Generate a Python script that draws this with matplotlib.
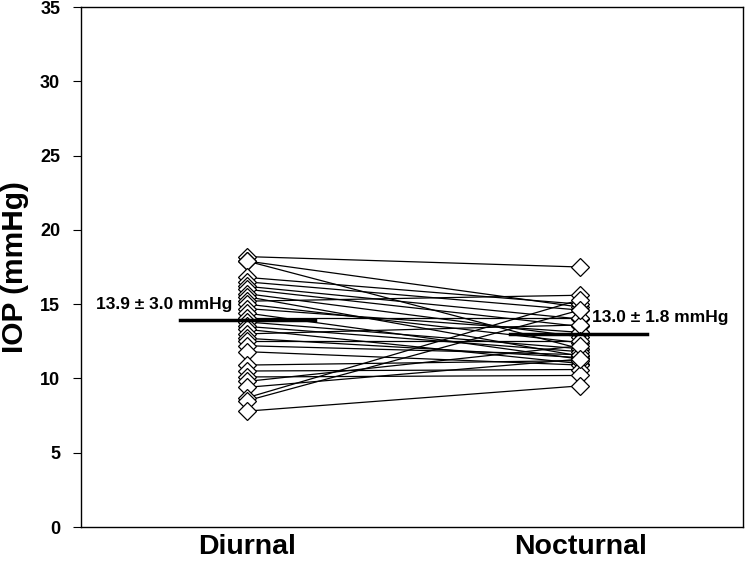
import matplotlib
matplotlib.use("Agg")
import matplotlib.pyplot as plt

plt.rcParams['font.family'] = ['Liberation Sans', 'DejaVu Sans']

categories = ["Diurnal", "Nocturnal"]
diurnal = [18.2, 17.9, 17.9, 16.8, 16.5, 16.2, 16.0, 15.7, 15.5, 15.2, 15.0, 14.7, 14.4, 14.1, 13.8,
           13.5, 13.3, 13.0, 12.7, 12.5, 12.2, 11.8, 10.9, 10.5, 10.1, 9.8, 9.4, 8.7, 8.5, 7.8]
nocturnal = [17.5, 14.8, 12.0, 15.0, 14.6, 14.0, 13.5, 12.8, 11.5, 15.6, 12.4, 13.1, 11.3, 14.1, 12.0,
             11.8, 11.0, 13.6, 11.4, 12.5, 11.6, 10.9, 11.2, 10.6, 10.2, 12.2, 11.3, 15.3, 14.6, 9.5]
means = [13.9, 13.0]
sds = [3.0, 1.8]
yticks = [0, 5, 10, 15, 20, 25, 30, 35]

fig = plt.figure(figsize=(7.47, 5.61), dpi=100)
ax = fig.add_axes([0.1084, 0.0606, 0.8862, 0.9269])

xs = [0, 1]
for d, n in zip(diurnal, nocturnal):
    ax.plot(xs, [d, n], color='black', lw=0.9, zorder=2)
for d, n in zip(diurnal, nocturnal):
    ax.plot(xs, [d, n], ls='none', marker='D', ms=9, mfc='white', mec='black', mew=0.9, zorder=3)

# mean lines
ax.plot([-0.20, 0.204], [means[0], means[0]], color='black', lw=2.5, zorder=4)
ax.plot([0.79, 1.201], [means[1], means[1]], color='black', lw=2.5, zorder=4)
ax.text(-0.045, 14.95, f"{means[0]:.1f} \u00b1 {sds[0]:.1f} mmHg", ha='right', va='center',
        fontsize=12.5, fontweight='bold', zorder=5)
ax.text(1.036, 14.07, f"{means[1]:.1f} \u00b1 {sds[1]:.1f} mmHg", ha='left', va='center',
        fontsize=12.5, fontweight='bold', zorder=5)

ax.set_xlim(-0.4985, 1.489)
ax.set_ylim(0, 35)
ax.set_yticks(yticks)
ax.set_yticklabels([str(t) for t in yticks], fontsize=13, fontweight='bold')
ax.set_xticks(xs)
ax.set_xticklabels(categories, fontsize=20.5, fontweight='bold')
ax.tick_params(axis='x', length=0, pad=5)
ax.tick_params(axis='y', length=6, width=0.8, direction='out', pad=9)
ax.set_ylabel("IOP (mmHg)", fontsize=21.5, fontweight='bold')
ax.yaxis.set_label_coords(-0.0785, 0.5)
for s in ax.spines.values():
    s.set_linewidth(1.0)

fig.savefig("out.png", dpi=100)
